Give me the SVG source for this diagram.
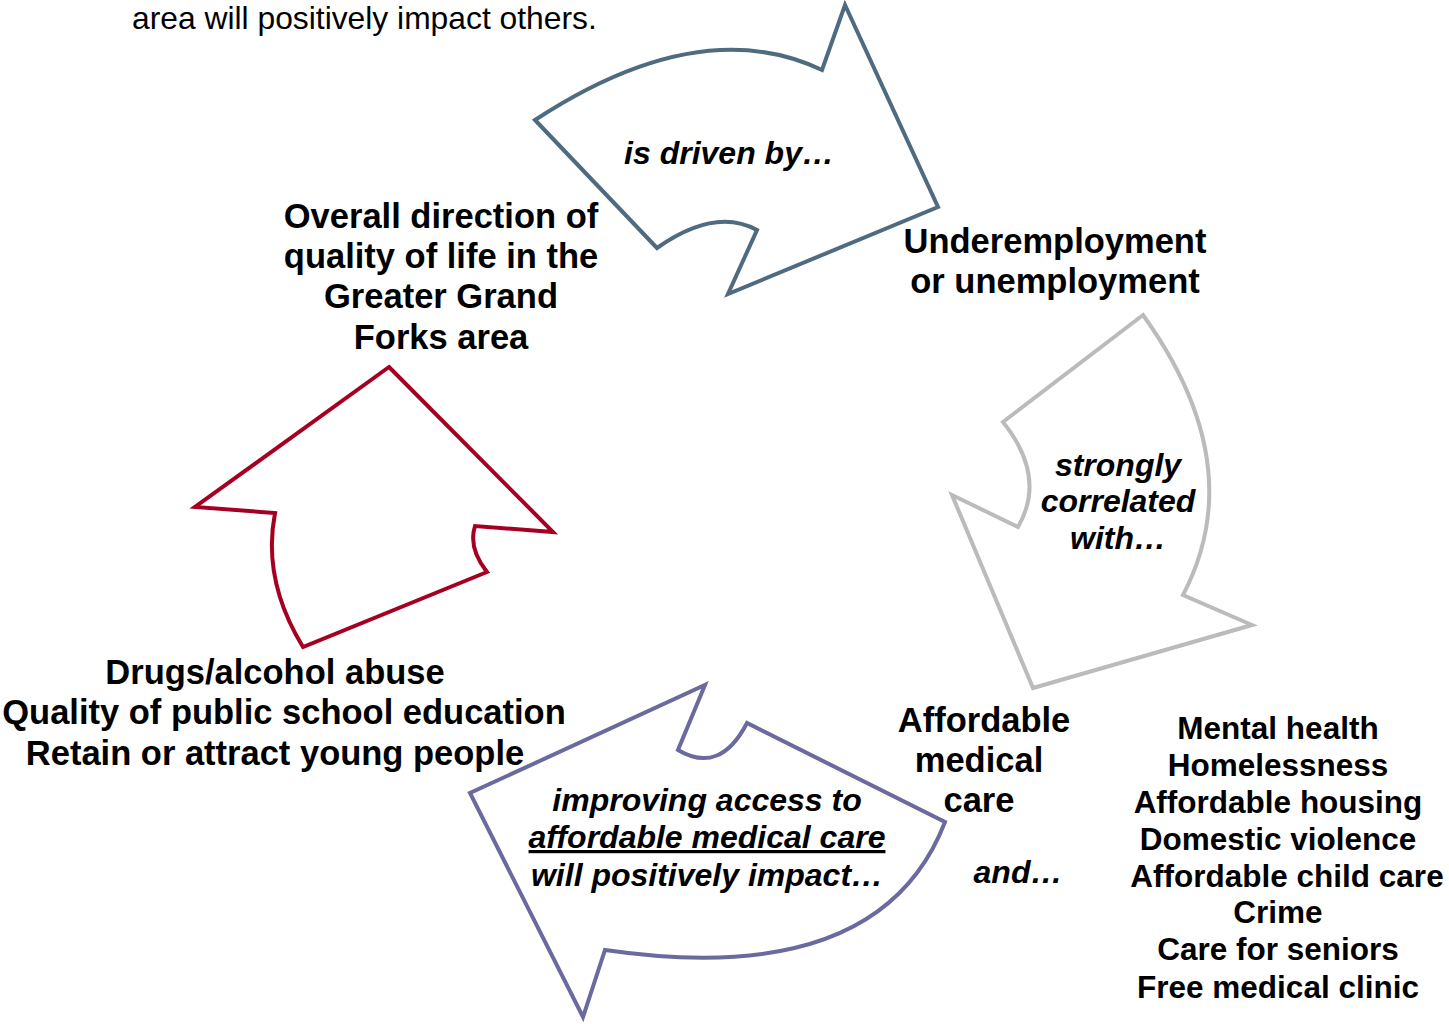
<svg xmlns="http://www.w3.org/2000/svg" width="1449" height="1024" viewBox="0 0 1449 1024">
<style>
.t{font-family:"Liberation Sans",Arial,sans-serif;fill:#000;text-anchor:middle}
.b{font-weight:bold;font-size:34.5px}
.l{font-weight:bold;font-size:31.5px}
.i{font-weight:bold;font-style:italic;font-size:32px}
.arr{fill:#fff;stroke-width:4;stroke-linejoin:miter}
</style>
<rect width="1449" height="1024" fill="#fff"/>
<text class="t" x="132" y="29" style="text-anchor:start;font-size:31.8px">area will positively impact others.</text>
<g id="connectors">
<path id="arrow-blue" class="arr" stroke="#4E6B80" d="M535,120 Q700,12 822,70 L845,5 L938,207 L728,294 L757,230 Q715,207 657,248 Z"/>
<path id="arrow-gray" class="arr" stroke="#BBBBBB" d="M1143,315 Q1251,465 1183,595 L1252,625 L1033,688 L952,495 L1018,527 Q1047,477 1003,422 Z"/>
<path id="arrow-purple" class="arr" stroke="#6A6A9F" d="M705,685 L678,750 Q720,775 747,723 L945,822 Q880,990 605,950 L583,1017 L470,793 Z"/>
<path id="arrow-red" class="arr" stroke="#A50021" d="M389,367 L553,532 L475,526 Q468,548 487,572 L303,647 Q262,580 275,513 L195,507 Z"/>
</g>
<g id="node-quality">
<text class="t b" x="441" y="228">Overall direction of</text>
<text class="t b" x="441" y="268">quality of life in the</text>
<text class="t b" x="441" y="308">Greater Grand</text>
<text class="t b" x="441" y="349">Forks area</text>
</g>
<g id="label-driven">
<text class="t i" x="729" y="164">is driven by…</text>
</g>
<g id="node-underemployment">
<text class="t b" x="1055" y="253">Underemployment</text>
<text class="t b" x="1055" y="293">or unemployment</text>
</g>
<g id="label-correlated">
<text class="t i" x="1118" y="476">strongly</text>
<text class="t i" x="1118" y="512">correlated</text>
<text class="t i" x="1118" y="549">with…</text>
</g>
<g id="node-medical">
<text class="t b" x="984" y="732">Affordable</text>
<text class="t b" x="979" y="772">medical</text>
<text class="t b" x="979" y="812">care</text>
</g>
<g id="label-and">
<text class="t i" x="1018" y="883">and…</text>
</g>
<g id="node-list">
<text class="t l" x="1278" y="739">Mental health</text>
<text class="t l" x="1278" y="776">Homelessness</text>
<text class="t l" x="1278" y="813">Affordable housing</text>
<text class="t l" x="1278" y="850">Domestic violence</text>
<text class="t l" x="1287" y="887">Affordable child care</text>
<text class="t l" x="1278" y="923">Crime</text>
<text class="t l" x="1278" y="960">Care for seniors</text>
<text class="t l" x="1278" y="998">Free medical clinic</text>
</g>
<g id="label-improving">
<text class="t i" x="707" y="811">improving access to</text>
<text class="t i" x="707" y="848" text-decoration="underline" style="text-decoration:underline">affordable medical care</text>
<text class="t i" x="707" y="886">will positively impact…</text>
</g>
<g id="node-drugs">
<text class="t b" x="275" y="684">Drugs/alcohol abuse</text>
<text class="t b" x="284" y="724">Quality of public school education</text>
<text class="t b" x="275" y="765">Retain or attract young people</text>
</g>
</svg>
